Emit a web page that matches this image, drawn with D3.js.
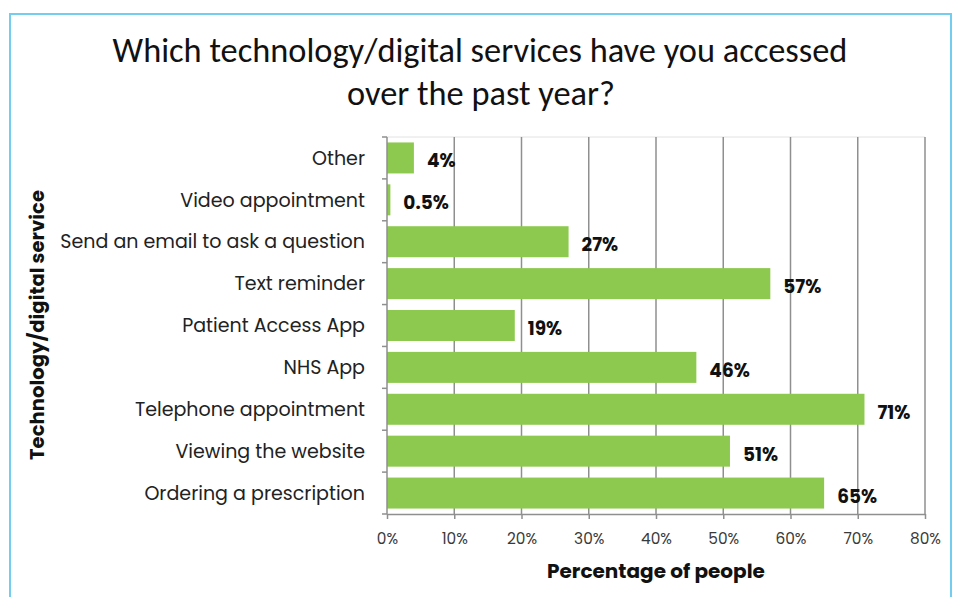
<!DOCTYPE html>
<html>
<head>
<meta charset="utf-8">
<script src="https://cdn.jsdelivr.net/npm/d3@7/dist/d3.min.js"></script>
<style>
  html, body { margin: 0; padding: 0; background: #fff; }
  svg { display: block; }
</style>
</head>
<body>
<svg id="chart" width="955" height="597"></svg>
<script>
const categories = [
  "Other",
  "Video appointment",
  "Send an email to ask a question",
  "Text reminder",
  "Patient Access App",
  "NHS App",
  "Telephone appointment",
  "Viewing the website",
  "Ordering a prescription"
];
const values = [4, 0.5, 27, 57, 19, 46, 71, 51, 65];
const valueLabels = ["4%", "0.5%", "27%", "57%", "19%", "46%", "71%", "51%", "65%"];
const xTicks = [0, 10, 20, 30, 40, 50, 60, 70, 80];
const titleLines = ["Which technology/digital services have you accessed", "over the past year?"];
const xTitle = "Percentage of people";
const yTitle = "Technology/digital service";

const svg = d3.select("#chart");
const m = { left: 387, right: 925, top: 137, bottom: 514 };

const labelFont = "Poppins, 'Open Sans', 'Noto Sans', sans-serif";
const titleFont = "Carlito, Calibri, Lato, sans-serif";

// frame
svg.append("rect")
  .attr("x", 10).attr("y", 14).attr("width", 941).attr("height", 600)
  .attr("fill", "#fff").attr("stroke", "#74ccef").attr("stroke-width", 2);

const x = d3.scaleLinear().domain([0, 80]).range([m.left, m.right]);
const y = d3.scaleBand().domain(categories).range([m.top, m.bottom]).paddingInner(0.26).paddingOuter(0.13);

function fit(sel, target) {
  sel.each(function () {
    const len = this.getComputedTextLength();
    if (len > 0) {
      const fs = parseFloat(d3.select(this).attr("font-size"));
      d3.select(this).attr("font-size", (fs * target / len).toFixed(2));
    }
  });
}

// plot top faint border
svg.append("line")
  .attr("x1", m.left).attr("x2", m.right).attr("y1", m.top).attr("y2", m.top)
  .attr("stroke", "#e2e2e2").attr("stroke-width", 1);

// gridlines
svg.append("g").selectAll("line").data(xTicks.filter(d => d > 0)).join("line")
  .attr("x1", d => x(d)).attr("x2", d => x(d))
  .attr("y1", m.top).attr("y2", m.bottom)
  .attr("stroke", "#8f8f8f").attr("stroke-width", 1.5);

// bars
svg.append("g").selectAll("rect").data(categories).join("rect")
  .attr("x", x(0))
  .attr("y", d => y(d))
  .attr("width", (d, i) => x(values[i]) - x(0))
  .attr("height", y.bandwidth())
  .attr("fill", "#8dc94e");

// x axis
const xAxis = svg.append("g")
  .attr("transform", `translate(0,${m.bottom})`)
  .call(d3.axisBottom(x).tickValues(xTicks).tickFormat(d => d + "%").tickSize(5).tickSizeOuter(0));
xAxis.select(".domain").attr("stroke", "#8f8f8f").attr("stroke-width", 1.5);
xAxis.selectAll(".tick line").attr("stroke", "#8f8f8f").attr("stroke-width", 1.5);
xAxis.selectAll(".tick text")
  .attr("font-family", labelFont).attr("font-size", 14).attr("fill", "#3a3a3a")
  .attr("y", 14).attr("dy", "1.05em");
fit(xAxis.selectAll(".tick text").filter(d => d === 80), 31);
const tfs = xAxis.selectAll(".tick text").filter(d => d === 80).attr("font-size");
xAxis.selectAll(".tick text").attr("font-size", tfs);

// y axis (line + ticks at band boundaries)
svg.append("line")
  .attr("x1", m.left).attr("x2", m.left).attr("y1", m.top).attr("y2", m.bottom)
  .attr("stroke", "#8f8f8f").attr("stroke-width", 1.5);
const step = (m.bottom - m.top) / categories.length;
svg.append("g").selectAll("line").data(d3.range(categories.length + 1)).join("line")
  .attr("x1", m.left - 5).attr("x2", m.left)
  .attr("y1", i => m.top + i * step).attr("y2", i => m.top + i * step)
  .attr("stroke", "#8f8f8f").attr("stroke-width", 1.5);

// category labels
const catText = svg.append("g").selectAll("text").data(categories).join("text")
  .attr("x", 365)
  .attr("y", d => y(d) + y.bandwidth() / 2)
  .attr("dy", "0.35em")
  .attr("text-anchor", "end")
  .attr("font-family", labelFont).attr("font-size", 16).attr("fill", "#222")
  .text(d => d);
fit(catText.filter(d => d === "Send an email to ask a question"), 305);
const cfs = catText.filter(d => d === "Send an email to ask a question").attr("font-size");
catText.attr("font-size", cfs);

// value labels
const valText = svg.append("g").selectAll("text").data(categories).join("text")
  .attr("x", (d, i) => x(values[i]) + 13)
  .attr("y", d => y(d) + y.bandwidth() / 2 + 3)
  .attr("dy", "0.35em")
  .attr("font-family", labelFont).attr("font-weight", "bold").attr("font-size", 16).attr("fill", "#111")
  .text((d, i) => valueLabels[i]);
fit(valText.filter((d, i) => i === 6), 33);
const vfs = valText.filter((d, i) => i === 6).attr("font-size");
valText.attr("font-size", vfs);

// title
const t1 = svg.append("text")
  .attr("x", 480).attr("y", 62).attr("text-anchor", "middle")
  .attr("font-family", titleFont).attr("font-size", 31).attr("fill", "#111")
  .text(titleLines[0]);
fit(t1, 735);
svg.append("text")
  .attr("x", 481).attr("y", 105).attr("text-anchor", "middle")
  .attr("font-family", titleFont).attr("font-size", t1.attr("font-size")).attr("fill", "#111")
  .text(titleLines[1]);

// axis titles
const xt = svg.append("text")
  .attr("x", 656).attr("y", 578).attr("text-anchor", "middle")
  .attr("font-family", labelFont).attr("font-weight", "bold").attr("font-size", 18).attr("fill", "#111")
  .text(xTitle);
fit(xt, 218);

const yt = svg.append("text")
  .attr("transform", "translate(44,325) rotate(-90)")
  .attr("text-anchor", "middle")
  .attr("font-family", labelFont).attr("font-weight", "bold").attr("font-size", 18).attr("fill", "#111")
  .text(yTitle);
fit(yt, 270);
</script>
</body>
</html>
